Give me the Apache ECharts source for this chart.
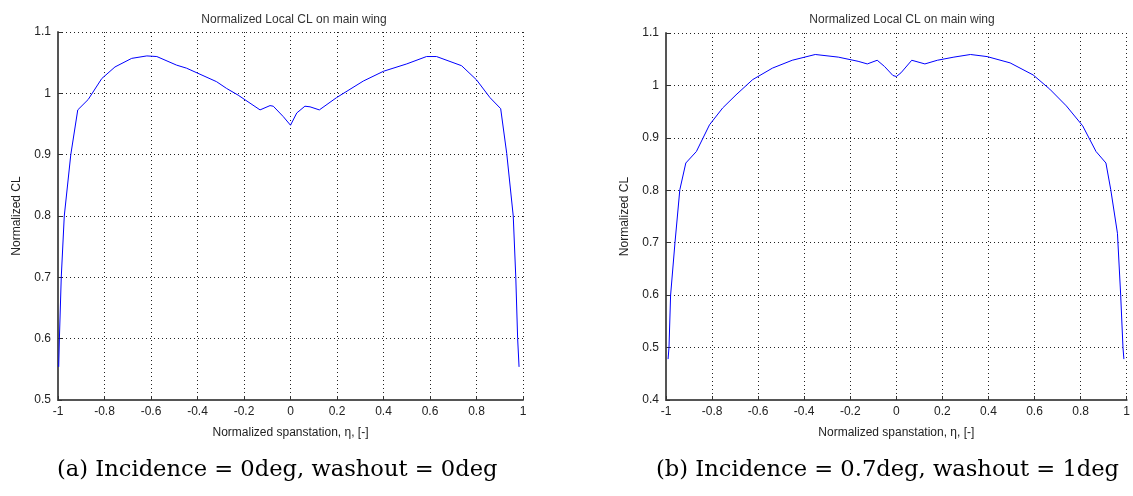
<!DOCTYPE html>
<html>
<head>
<meta charset="utf-8">
<script src="https://cdn.jsdelivr.net/npm/echarts@6/dist/echarts.min.js"></script>
<style>
  html, body { margin: 0; padding: 0; background: #fff; }
  #chart { width: 1133px; height: 496px; }
</style>
</head>
<body>
<div id="chart"></div>
<script>
// (a) incidence 0deg, washout 0deg
var etaA = [-0.997, -0.994, -0.986, -0.973, -0.945, -0.915, -0.870, -0.812, -0.755, -0.683, -0.618, -0.575, -0.490, -0.447,
  -0.318, -0.275, -0.225, -0.131, -0.088, -0.074, -0.031, 0.0, 0.027, 0.062, 0.084, 0.124, 0.198, 0.313, 0.40, 0.50,
  0.585, 0.628, 0.736, 0.80, 0.858, 0.904, 0.930, 0.958, 0.969, 0.977, 0.983]
var clA = [0.554, 0.60, 0.70, 0.80, 0.90, 0.973, 0.990, 1.024, 1.043, 1.057, 1.061, 1.060, 1.046, 1.041,
  1.019, 1.008, 0.997, 0.973, 0.980, 0.979, 0.962, 0.948, 0.968, 0.979, 0.978, 0.973, 0.993, 1.020, 1.036, 1.048,
  1.060, 1.060, 1.045, 1.022, 0.993, 0.975, 0.902, 0.80, 0.70, 0.60, 0.554]

// (b) incidence 0.7deg, washout 1deg
var etaB = [-0.991, -0.987, -0.980, -0.961, -0.940, -0.914, -0.868, -0.811, -0.754, -0.696, -0.624, -0.538, -0.452, -0.352,
  -0.252, -0.166, -0.126, -0.083, -0.051, -0.015, 0.0, 0.02, 0.067, 0.124, 0.178, 0.25, 0.322, 0.394, 0.494, 0.594,
  0.666, 0.738, 0.809, 0.867, 0.910, 0.931, 0.960, 0.974, 0.984, 0.988]
var clB = [0.478, 0.50, 0.60, 0.70, 0.801, 0.852, 0.874, 0.925, 0.957, 0.982, 1.011, 1.033, 1.048, 1.059,
  1.054, 1.046, 1.041, 1.048, 1.036, 1.019, 1.017, 1.024, 1.048, 1.041, 1.048, 1.054, 1.059, 1.055, 1.043, 1.020,
  0.993, 0.961, 0.923, 0.874, 0.852, 0.801, 0.718, 0.60, 0.50, 0.478]

var titleText = 'Normalized Local CL on main wing'
var xName = 'Normalized spanstation, \u03b7, [-]'
var yName = 'Normalized CL'
var captions = ['(a) Incidence = 0deg, washout = 0deg', '(b) Incidence = 0.7deg, washout = 1deg']
var yRanges = [[0.5, 1.1], [0.4, 1.1]]

function pairs (xs, ys) {
  return xs.map(function (x, i) { return [x, ys[i]] })
}
function fmt (v) { return String(+v.toFixed(2)) }

var font = 'Liberation Sans, Arial, sans-serif'

function xAxis (gi) {
  return {
    gridIndex: gi, type: 'value', min: -1, max: 1, interval: 0.2,
    name: xName, nameLocation: 'middle', nameGap: 27,
    nameTextStyle: { fontFamily: font, fontSize: 12, color: '#222' },
    axisLine: { onZero: false, lineStyle: { color: '#555', width: 2 } },
    axisTick: { inside: true, length: 4, lineStyle: { color: '#333' } },
    axisLabel: { margin: 6, fontFamily: font, fontSize: 12, color: '#222', formatter: fmt },
    splitLine: { show: true, lineStyle: { color: '#222', type: [1, 3], width: 1 } }
  }
}
function yAxis (gi) {
  return {
    gridIndex: gi, type: 'value', min: yRanges[gi][0], max: yRanges[gi][1], interval: 0.1,
    name: yName, nameLocation: 'middle', nameGap: 35,
    nameTextStyle: { fontFamily: font, fontSize: 12, color: '#222' },
    axisLine: { onZero: false, lineStyle: { color: '#555', width: 2 } },
    axisTick: { inside: true, length: 4, lineStyle: { color: '#333' } },
    axisLabel: { margin: 7, fontFamily: font, fontSize: 12, color: '#222', formatter: fmt },
    splitLine: { show: true, lineStyle: { color: '#222', type: [1, 3], width: 1 } }
  }
}

var myChart = echarts.init(document.getElementById('chart'), null, { renderer: 'canvas' })
var option = {
  animation: false,
  backgroundColor: '#fff',
  title: [
    { text: titleText, left: 289, top: 9, textAlign: 'center',
      textStyle: { fontFamily: font, fontSize: 12, fontWeight: 'normal', color: '#333' } },
    { text: titleText, left: 897, top: 9, textAlign: 'center',
      textStyle: { fontFamily: font, fontSize: 12, fontWeight: 'normal', color: '#333' } }
  ],
  grid: [
    { left: 58, top: 32, width: 465, height: 368 },
    { left: 666, top: 33, width: 465, height: 367 }
  ],
  xAxis: [xAxis(0), xAxis(1)],
  yAxis: [yAxis(0), yAxis(1)],
  series: [
    { type: 'line', xAxisIndex: 0, yAxisIndex: 0, data: pairs(etaA, clA), showSymbol: false,
      lineStyle: { color: '#0000ff', width: 1 } },
    { type: 'line', xAxisIndex: 1, yAxisIndex: 1, data: pairs(etaB, clB), showSymbol: false,
      lineStyle: { color: '#0000ff', width: 1 } }
  ],
  graphic: [
    { type: 'text', left: 57, top: 459,
      style: { text: captions[0], font: '22.6px "DejaVu Serif", serif', fill: '#000' } },
    { type: 'text', left: 656, top: 459,
      style: { text: captions[1], font: '22.6px "DejaVu Serif", serif', fill: '#000' } }
  ]
}
myChart.setOption(option)
</script>
</body>
</html>
